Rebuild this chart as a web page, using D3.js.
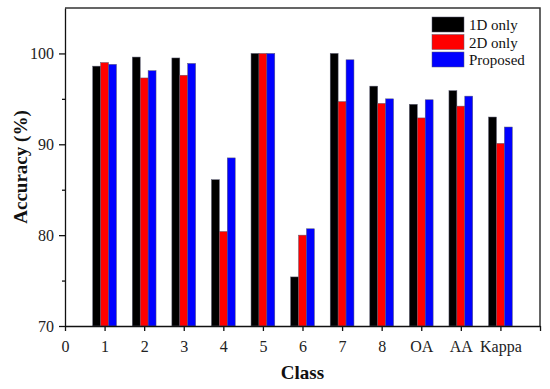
<!DOCTYPE html>
<html lang="en">
<head>
    <meta charset="UTF-8">
    <title>Accuracy by Class</title>
    <style>
        html, body {
            margin: 0;
            padding: 0;
            background-color: #fff;
            font-family: 'Liberation Serif', 'Times New Roman', serif;
        }
        svg text { fill: #111; }
    </style>
</head>
<body>
    <div id="graph"></div>
    <script src="https://d3js.org/d3.v7.min.js"></script>
    <script>
        // data
        const classes = ["1", "2", "3", "4", "5", "6", "7", "8", "OA", "AA", "Kappa"];
        const oneD = [98.6, 99.6, 99.5, 86.1, 100, 75.4, 100, 96.4, 94.4, 95.9, 93.0];
        const twoD = [99.0, 97.3, 97.6, 80.4, 100, 80.0, 94.7, 94.5, 92.9, 94.2, 90.1];
        const proposed = [98.8, 98.1, 98.9, 88.5, 100, 80.7, 99.3, 95.0, 94.9, 95.3, 91.9];
        const seriesNames = ["1D only", "2D only", "Proposed"];
        const colours = ["#000000", "#ff0000", "#0000ff"];

        const W = 550, H = 389;
        const margin = {top: 8, left: 65, bottom: 63, right: 10};

        const svg = d3.select("#graph")
            .append("svg")
            .attr("width", W)
            .attr("height", H);

        const x = d3.scaleLinear().domain([0, 12]).range([margin.left, W - margin.right]);
        const y = d3.scaleLinear().domain([70, 105]).range([H - margin.bottom, margin.top]);

        const barW = 0.2;
        const series = [oneD, twoD, proposed];

        // BARS
        series.forEach((vals, s) => {
            svg.append("g")
                .selectAll("rect")
                .data(vals)
                .enter()
                .append("rect")
                .attr("x", (d, i) => x(i + 1 + (s - 1) * barW - barW / 2))
                .attr("width", x(barW) - x(0))
                .attr("y", (d) => y(d))
                .attr("height", (d) => y(70) - y(d))
                .style("fill", colours[s])
                .style("stroke", "#5a5a70")
                .style("stroke-width", 0.5);
        });

        // FRAME (top and right)
        svg.append("path")
            .attr("d", `M${x(0)},${y(105)}H${x(12)}V${y(70)}`)
            .style("fill", "none")
            .style("stroke", "#333")
            .style("stroke-width", 1.5);

        // X AXIS
        const xAxis = svg.append("g")
            .attr("transform", `translate(0,${y(70)})`)
            .call(d3.axisBottom(x)
                .tickValues(d3.range(0, 13))
                .tickSize(5)
                .tickSizeOuter(0)
                .tickFormat((d) => d === 0 ? "0" : (classes[d - 1] || "")));
        xAxis.selectAll("text")
            .attr("dy", "1.1em")
            .style("font-size", "16px")
            .style("font-family", "'Liberation Serif', serif")
            .style("fill", "#222");

        // Y AXIS
        const yAxis = svg.append("g")
            .attr("transform", `translate(${x(0)},0)`)
            .call(d3.axisLeft(y)
                .tickValues([70, 80, 90, 100])
                .tickSize(6)
                .tickSizeOuter(0)
                .tickPadding(5));
        yAxis.selectAll("text")
            .style("font-size", "16px")
            .style("font-family", "'Liberation Serif', serif")
            .style("fill", "#222");

        svg.append("g")
            .attr("transform", `translate(${x(0)},0)`)
            .call(d3.axisLeft(y).tickValues([75, 85, 95]).tickSize(3).tickFormat(""))
            .select(".domain").remove();

        svg.selectAll(".domain, .tick line")
            .style("stroke", "#111")
            .style("stroke-width", 1.3);

        // AXIS TITLES
        svg.append("text")
            .text("Class")
            .attr("x", (x(0) + x(12)) / 2)
            .attr("y", 379)
            .attr("text-anchor", "middle")
            .style("font-size", "19px")
            .style("font-weight", "bold");

        svg.append("text")
            .text("Accuracy (%)")
            .attr("transform", `translate(27,${(y(70) + y(105)) / 2}) rotate(-90)`)
            .attr("text-anchor", "middle")
            .style("font-size", "19px")
            .style("font-weight", "bold");

        // LEGEND
        const legend = svg.append("g").attr("transform", "translate(432,17)");
        legend.selectAll("rect")
            .data(seriesNames).enter()
            .append("rect")
            .attr("x", 0)
            .attr("y", (d, i) => i * 17.5)
            .attr("width", 32)
            .attr("height", 15)
            .style("fill", (d, i) => colours[i])
            .style("stroke", "#5a5a70")
            .style("stroke-width", 0.5);
        legend.selectAll("text")
            .data(seriesNames).enter()
            .append("text")
            .text((d) => d)
            .attr("x", 37)
            .attr("y", (d, i) => i * 17.5 + 13)
            .style("font-size", "15px");
    </script>
</body>
</html>
